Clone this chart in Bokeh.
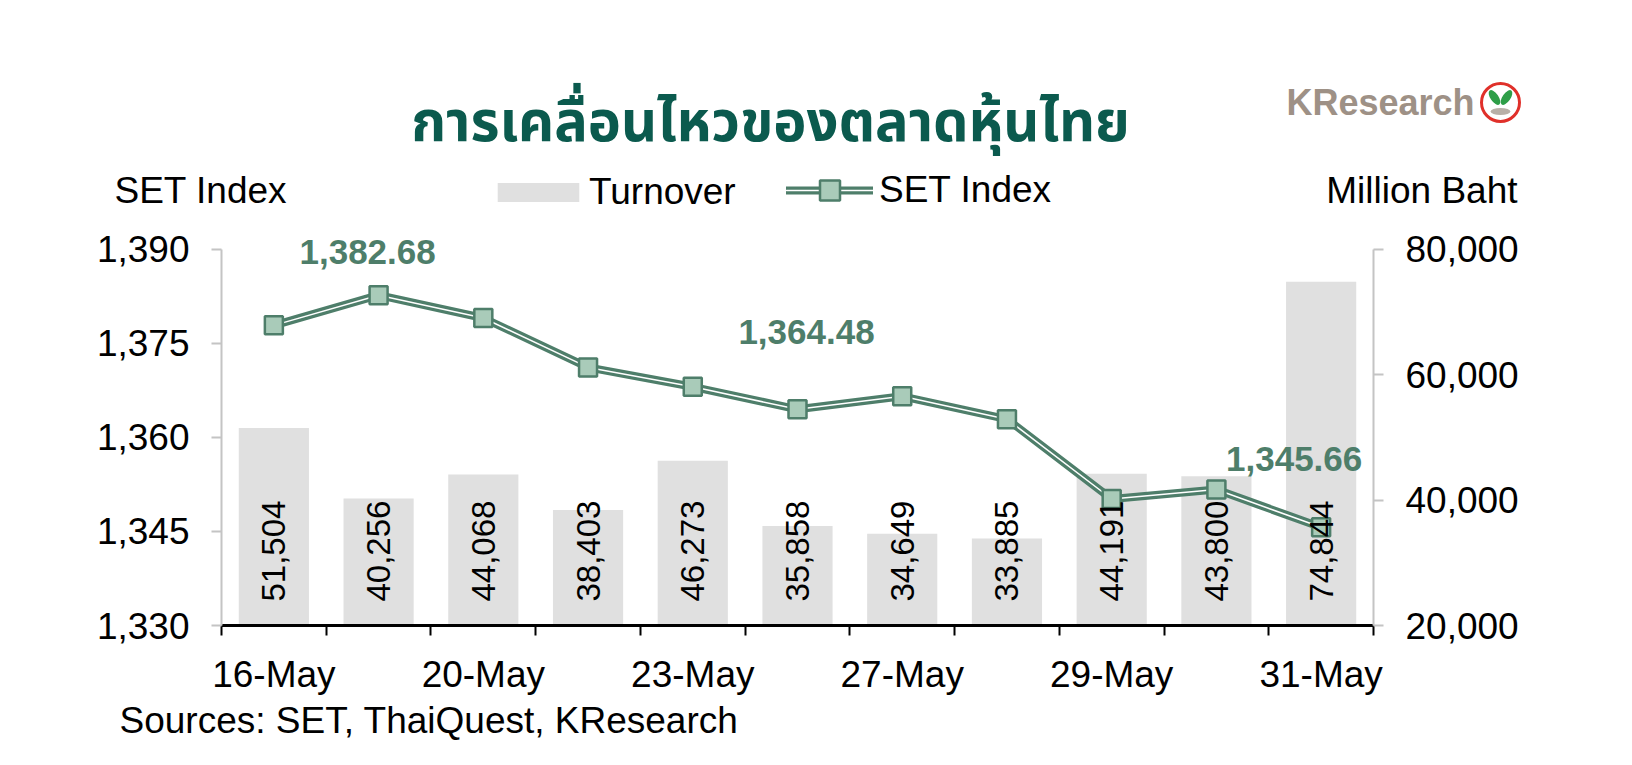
import math
from bokeh.plotting import figure
from bokeh.layouts import column
from bokeh.models import (Range1d, LinearAxis, FixedTicker, NumeralTickFormatter,
                          Legend, LegendItem, Title)
from bokeh.core.properties import value
from bokeh.embed import file_html
from bokeh.resources import INLINE

# ---------------- data ----------------
dates = ["16-May", "17-May", "20-May", "21-May", "23-May", "24-May",
         "27-May", "28-May", "29-May", "30-May", "31-May"]
turnover = [51504, 40256, 44068, 38403, 46273, 35858, 34649, 33885, 44191, 43800, 74844]
set_index = [1377.87, 1382.68, 1379.04, 1371.16, 1368.07, 1364.48,
             1366.55, 1362.91, 1350.18, 1351.68, 1345.66]
left_ticks = [1330, 1345, 1360, 1375, 1390]
right_ticks = [20000, 40000, 60000, 80000]
annotated_idx = [1, 5, 10]

title_text = "การเคลื่อนไหวของตลาดหุ้นไทย"
left_title = "SET Index"
right_title = "Million Baht"
source_text = "Sources: SET, ThaiQuest, KResearch"
logo_text = "KResearch"

# ---------------- style ----------------
FONT = "Liberation Sans"
THAI_FONT = "Noto Sans Thai, Noto Sans Thai UI, Loma, Garuda, Tlwg Typo, Noto Sans, sans-serif"
GREEN = "#4E7E6A"
MARK_FILL = "#A9CBB9"
BAR = "#E0E0E0"
AXIS_GRAY = "#C4C4C4"
W = 1616
TOP_H = 230
MAIN_H = 519

xs = list(range(len(dates)))

# =============== header figure (title, logo, legend, axis titles) ===============
top = figure(width=W, height=TOP_H, output_backend="svg", toolbar_location=None,
             x_range=Range1d(0, W), y_range=Range1d(TOP_H, 0),
             x_axis_type=None, y_axis_type=None, min_border=0)
top.frame_align = False
top.outline_line_color = None
top.background_fill_color = "white"
top.border_fill_color = "white"

top.text(x=[770], y=[123], text=[title_text], text_align="center", text_baseline="middle",
         text_font=value(THAI_FONT), text_font_size="56px", text_font_style="bold",
         text_color="#0B5A4E")
top.text(x=[1286], y=[102], text=[logo_text], text_align="left", text_baseline="middle",
         text_font=value(FONT), text_font_size="36px", text_font_style="bold",
         text_color="#9E9186")
# logo emblem
top.scatter(x=[1500], y=[102], marker="circle", size=38, fill_color="white",
            line_color="#E0302A", line_width=3)
top.ellipse(x=[1500], y=[111], width=20, height=7, fill_color="#B8B0A8", line_color=None)
top.ellipse(x=[1494], y=[97], width=8, height=17, angle=0.6, fill_color="#2E9E48", line_color=None)
top.ellipse(x=[1506], y=[97], width=8, height=17, angle=-0.6, fill_color="#2E9E48", line_color=None)

top.text(x=[114], y=[190], text=[left_title], text_align="left", text_baseline="middle",
         text_font=value(FONT), text_font_size="37px", text_color="black")
top.text(x=[1517], y=[190], text=[right_title], text_align="right", text_baseline="middle",
         text_font=value(FONT), text_font_size="37px", text_color="black")

# legend swatches: hidden copies of the chart marks (only their legend glyphs show)
lg_bar = top.vbar(x=xs, top=turnover, width=0.67, fill_color=BAR, line_color=None, visible=False)
lg_l1 = top.line(x=xs, y=set_index, line_color=GREEN, line_width=8, line_cap="round",
                 visible=False)
lg_l2 = top.line(x=xs, y=set_index, line_color="white", line_width=1.5, line_cap="round",
                 visible=False)
lg_mk = top.scatter(x=xs, y=set_index, marker="square", size=18, fill_color=MARK_FILL,
                    line_color=GREEN, line_width=2.5, visible=False)

leg_common = dict(padding=0, margin=0, border_line_color=None, background_fill_alpha=0,
                  inactive_fill_alpha=0, label_text_font=FONT, label_text_font_size="37px",
                  label_text_color="black")
leg1 = Legend(items=[LegendItem(label="Turnover", renderers=[lg_bar])],
              location=(487, 17), glyph_width=102, glyph_height=24, label_standoff=0,
              **leg_common)
leg2 = Legend(items=[LegendItem(label="SET Index", renderers=[lg_l1, lg_l2, lg_mk])],
              location=(786, 15), glyph_width=87, glyph_height=50, label_standoff=6,
              **leg_common)
top.add_layout(leg1, "center")
top.add_layout(leg2, "center")

# =============== main chart ===============
EXT = 3  # headroom above the top tick (in SET Index units) for the annotation text
p = figure(width=W, height=MAIN_H, output_backend="svg", toolbar_location=None,
           x_range=Range1d(-0.5, len(dates) - 0.5),
           y_range=Range1d(left_ticks[0], left_ticks[-1] + EXT),
           min_border_left=221, min_border_right=243,
           min_border_top=0, min_border_bottom=124)
p.frame_align = False
scale = (right_ticks[-1] - right_ticks[0]) / (left_ticks[-1] - left_ticks[0])
p.extra_y_ranges = {"turn": Range1d(right_ticks[0], right_ticks[-1] + EXT * scale)}
p.outline_line_color = None
p.xgrid.visible = False
p.ygrid.visible = False
p.background_fill_color = "white"
p.border_fill_color = "white"

bars = p.vbar(x=xs, top=turnover, bottom=right_ticks[0], width=0.67,
              y_range_name="turn", fill_color=BAR, line_color=None)

l_outer = p.line(xs, set_index, line_color=GREEN, line_width=8, line_join="round")
l_inner = p.line(xs, set_index, line_color="white", line_width=1.5, line_join="round")
marks = p.scatter(xs, set_index, marker="square", size=18,
                  fill_color=MARK_FILL, line_color=GREEN, line_width=2.5)

p.text(x=xs, y=[right_ticks[0]] * len(xs), text=[f"{v:,}" for v in turnover],
       y_range_name="turn", angle=math.pi / 2, text_align="left",
       text_baseline="middle", y_offset=-24,
       text_font=value(FONT), text_font_size="33px", text_color="black")

offsets = {1: (-11, -43), 5: (9, -77), 10: (-27, -68)}
for i in annotated_idx:
    dx, dy = offsets[i]
    p.text(x=[xs[i]], y=[set_index[i]], text=[f"{set_index[i]:,.2f}"],
           x_offset=dx, y_offset=dy, text_align="center", text_baseline="middle",
           text_font=value(FONT), text_font_size="35px", text_font_style="bold",
           text_color=GREEN)

# ---------------- axes ----------------
xa = p.xaxis[0]
xa.ticker = FixedTicker(ticks=xs[::2], minor_ticks=[x - 0.5 for x in xs] + [xs[-1] + 0.5])
xa.major_label_overrides = {x: dates[x] for x in xs[::2]}
xa.axis_line_color = "black"
xa.axis_line_width = 3
xa.major_tick_line_color = None
xa.major_tick_out = 0
xa.major_tick_in = 0
xa.minor_tick_line_color = "black"
xa.minor_tick_line_width = 2
xa.minor_tick_out = 10
xa.minor_tick_in = 0
xa.major_label_standoff = 18
xa.major_label_text_font = FONT
xa.major_label_text_font_size = "37px"
xa.major_label_text_color = "black"

ya = p.yaxis[0]
ya.ticker = FixedTicker(ticks=left_ticks)
ya.bounds = (left_ticks[0], left_ticks[-1])
ya.formatter = NumeralTickFormatter(format="0,0")
ya.axis_line_color = AXIS_GRAY
ya.axis_line_width = 2
ya.major_tick_line_color = AXIS_GRAY
ya.major_tick_line_width = 2
ya.major_tick_out = 10
ya.major_tick_in = 0
ya.minor_tick_line_color = None
ya.major_label_standoff = 22
ya.major_label_text_font = FONT
ya.major_label_text_font_size = "37px"
ya.major_label_text_color = "black"

ra = LinearAxis(y_range_name="turn", ticker=FixedTicker(ticks=right_ticks),
                formatter=NumeralTickFormatter(format="0,0"),
                bounds=(right_ticks[0], right_ticks[-1]))
ra.axis_line_color = AXIS_GRAY
ra.axis_line_width = 2
ra.major_tick_line_color = AXIS_GRAY
ra.major_tick_line_width = 2
ra.major_tick_out = 10
ra.major_tick_in = 0
ra.minor_tick_line_color = None
ra.major_label_standoff = 22
ra.major_label_text_font = FONT
ra.major_label_text_font_size = "37px"
ra.major_label_text_color = "black"
p.add_layout(ra, "right")

src = Title(text=source_text, align="left", offset=-102, standoff=0,
            text_font=FONT, text_font_size="37px", text_font_style="normal",
            text_color="black")
p.add_layout(src, "below")

layout = column(top, p, spacing=0)
open("out.html", "w").write(file_html(layout, INLINE))
